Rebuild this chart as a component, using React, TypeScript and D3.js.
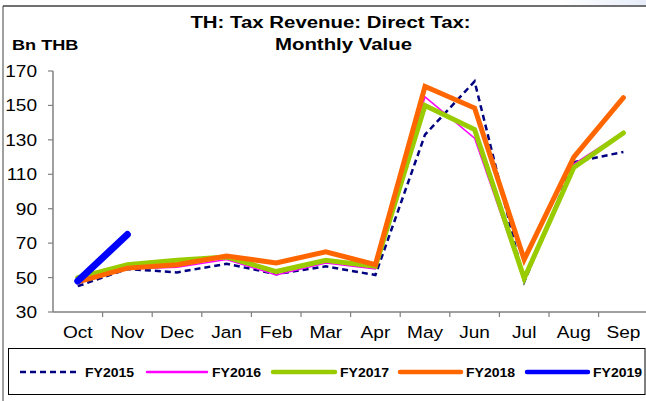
import React from "react";
import * as d3 from "d3";

const months = ["Oct", "Nov", "Dec", "Jan", "Feb", "Mar", "Apr", "May", "Jun", "Jul", "Aug", "Sep"];
const yTicks = [30, 50, 70, 90, 110, 130, 150, 170];

const fy2015 = [45, 55, 53, 58, 52, 56.5, 51.5, 133, 164, 47.5, 117, 123];
const fy2016 = [47, 55, 56, 60.5, 51.5, 58.5, 55, 155, 131, 48, 116, 134.5];
const fy2017 = [50, 57.5, 60, 62, 53.5, 60, 56.5, 150, 136, 49.5, 114, 134];
const fy2018 = [47.5, 55.5, 57.5, 62.5, 58.5, 65, 57.5, 161, 148.5, 60.5, 120, 154.5];
const fy2019 = [48, 75];

const seriesNames = ["FY2015", "FY2016", "FY2017", "FY2018", "FY2019"];

const FONT = "'Liberation Sans', Arial, sans-serif";

function T({ x, y, size, bold, anchor, sx, children }: any) {
  return (
    <text
      transform={`translate(${x},${y}) scale(${sx ?? 1.17},1)`}
      fontSize={size}
      fontWeight={bold ? "bold" : "normal"}
      textAnchor={anchor || "start"}
      fontFamily={FONT}
      fill="#000"
    >
      {children}
    </text>
  );
}

export default function App() {
  const W = 646, H = 401;
  const x = d3.scaleBand<string>().domain(months).range([53, 53 + 12 * 49.6]);
  const y = d3.scaleLinear().domain([30, 170]).range([312, 71]);
  const cx = (i: number) => (x(months[i]) as number) + x.bandwidth() / 2;
  const line = d3.line<number>().x((_, i) => cx(i)).y((d) => y(d));

  const series = [
    { name: seriesNames[0], data: fy2015, color: "#000080", width: 2.5, dash: "6,4" },
    { name: seriesNames[1], data: fy2016, color: "#FF00FF", width: 1.5, dash: undefined },
    { name: seriesNames[2], data: fy2017, color: "#99CC00", width: 5, dash: undefined },
    { name: seriesNames[3], data: fy2018, color: "#FF6600", width: 5, dash: undefined },
    { name: seriesNames[4], data: fy2019, color: "#0000FF", width: 7, dash: undefined },
  ];

  const legendLines = [[20, 80], [147, 207], [273, 335], [400, 461], [527, 588]];
  const legY = 372;

  return (
    <svg width={W} height={H} style={{ position: "absolute", left: 0, top: 0, background: "#fff" }}>
      <defs>
        <linearGradient id="topg" x1="0" x2="1" y1="0" y2="0">
          <stop offset="0" stopColor="#ffffff" />
          <stop offset="1" stopColor="#e6ecf8" />
        </linearGradient>
      </defs>
      <rect x={560} y={0} width={86} height={6} fill="url(#topg)" />
      <line x1={3} x2={W} y1={6} y2={6} stroke="#707070" strokeWidth={2} />
      <line x1={3} x2={3} y1={6} y2={H} stroke="#404040" strokeWidth={1} />

      <T x={330.5} y={28.3} size={17} bold anchor="middle" sx={1.2}>TH: Tax Revenue: Direct Tax:</T>
      <T x={343.5} y={50} size={17} bold anchor="middle" sx={1.2}>Monthly Value</T>
      <T x={12} y={50} size={15.5} bold>Bn THB</T>

      <line x1={53} x2={53} y1={y(170)} y2={y(30)} stroke="#808080" strokeWidth={1.5} />
      {yTicks.map((t) => (
        <g key={t}>
          <line x1={48} x2={53} y1={y(t)} y2={y(t)} stroke="#808080" strokeWidth={1.2} />
          <T x={37} y={y(t) + 6} size={16.3} anchor="end">{t}</T>
        </g>
      ))}

      <line x1={53} x2={W} y1={y(30)} y2={y(30)} stroke="#808080" strokeWidth={1.5} />
      {months.map((m, i) => (
        <g key={m}>
          {i > 0 && (
            <line
              x1={x(m) as number}
              x2={x(m) as number}
              y1={y(30)}
              y2={y(30) + 5}
              stroke="#808080"
              strokeWidth={1.2}
            />
          )}
          <T x={cx(i)} y={338.3} size={16.3} anchor="middle">{m}</T>
        </g>
      ))}

      {series.map((s) => (
        <path
          key={s.name}
          d={line(s.data) as string}
          fill="none"
          stroke={s.color}
          strokeWidth={s.width}
          strokeDasharray={s.dash}
          strokeLinecap={s.dash ? "butt" : "round"}
          strokeLinejoin="miter"
        />
      ))}

      <rect x={8.5} y={348.5} width={636.5} height={46} fill="none" stroke="#000" strokeWidth={1} />
      {series.map((s, i) => (
        <g key={s.name}>
          <line
            x1={legendLines[i][0]}
            x2={legendLines[i][1]}
            y1={legY}
            y2={legY}
            stroke={s.color}
            strokeWidth={s.dash ? 2.5 : s.width === 1.5 ? 2.5 : 4.5}
            strokeDasharray={s.dash}
            strokeLinecap={s.dash ? "butt" : "round"}
          />
          <T x={legendLines[i][1] + 5} y={376.5} size={13} bold sx={1.08}>{s.name}</T>
        </g>
      ))}
    </svg>
  );
}
